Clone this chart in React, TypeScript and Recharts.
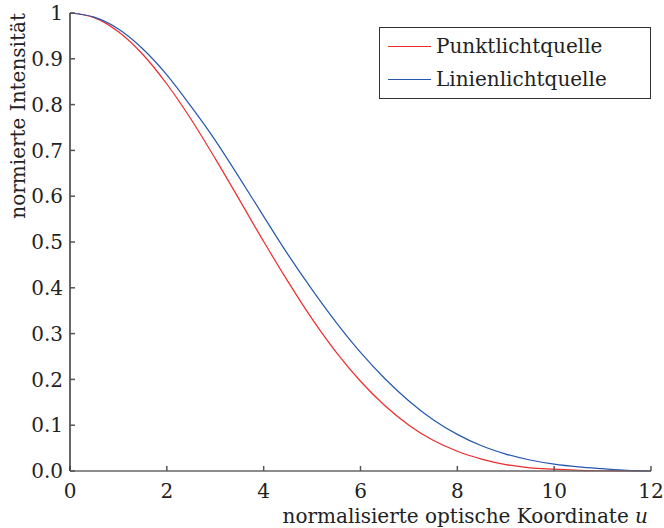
import React from "react";
import { LineChart, Line, XAxis, YAxis, Legend } from "recharts";

const uValues = [0, 0.5, 1, 1.5, 2, 2.5, 3, 3.5, 4, 4.5, 5, 5.5, 6, 6.5, 7, 7.5, 8, 8.5, 9, 9.5, 10, 10.5, 11, 11.5, 12];
const punktValues = [1, 0.99, 0.959, 0.91, 0.845, 0.768, 0.682, 0.592, 0.501, 0.414, 0.332, 0.259, 0.196, 0.143, 0.1, 0.067, 0.043, 0.026, 0.014, 0.007, 0.004, 0.0015, 0.0005, 0.0001, 0];
const linienValues = [1, 0.991, 0.965, 0.922, 0.865, 0.796, 0.722, 0.64, 0.556, 0.473, 0.396, 0.324, 0.259, 0.202, 0.153, 0.112, 0.08, 0.055, 0.037, 0.024, 0.015, 0.009, 0.005, 0.0015, 0];
const xTicks = [0, 2, 4, 6, 8, 10, 12];
const yTicks = [0, 0.1, 0.2, 0.3, 0.4, 0.5, 0.6, 0.7, 0.8, 0.9, 1];
const seriesNames = ["Punktlichtquelle", "Linienlichtquelle"];
const xLabel = "normalisierte optische Koordinate ";
const xLabelVar = "u";
const yLabel = "normierte Intensität";

const data = uValues.map((u, i) => ({ u, punkt: punktValues[i], linien: linienValues[i] }));

const FONT = '"DejaVu Serif", serif';
const FS = 20;
const TEXT = "#222";
const RED = "#ee2b2b";
const BLUE = "#2458b0";

const LegendBox = () => (
  <div
    style={{
      position: "absolute",
      left: 379,
      top: 27,
      width: 272,
      height: 72,
      border: "1.5px solid #333",
      background: "#fff",
      fontFamily: FONT,
      fontSize: FS,
      color: TEXT,
      boxSizing: "border-box",
    }}
  >
    {seriesNames.map((n, i) => (
      <div key={n} style={{ position: "absolute", left: 8, top: 5 + i * 33, height: 26, display: "flex", alignItems: "center", whiteSpace: "nowrap" }}>
        <div style={{ width: 43, height: 0, borderTop: `1.5px solid ${i === 0 ? RED : BLUE}`, marginRight: 5 }} />
        <span>{n}</span>
      </div>
    ))}
  </div>
);

export default function App() {
  return (
    <div style={{ position: "absolute", left: 0, top: 0, width: 664, height: 528, background: "#fff" }}>
      <LineChart width={664} height={528} data={data} margin={{ top: 13, right: 13, bottom: 0, left: 0 }}>
        <XAxis
          dataKey="u"
          type="number"
          domain={[0, 12]}
          ticks={xTicks}
          height={57}
          axisLine={{ stroke: "#666", strokeWidth: 1.5 }}
          tickLine={{ stroke: "#555", strokeWidth: 1.5 }}
          tickSize={-5}
          tickMargin={18}
          tick={{ fill: TEXT, fontFamily: FONT, fontSize: FS }}
          interval={0}
        />
        <YAxis
          type="number"
          domain={[0, 1]}
          ticks={yTicks}
          width={70}
          axisLine={{ stroke: "#333", strokeWidth: 1.5 }}
          tickLine={{ stroke: "#555", strokeWidth: 1.5 }}
          tickSize={-5}
          tickMargin={12}
          tick={{ fill: TEXT, fontFamily: FONT, fontSize: FS }}
          tickFormatter={(v: number) => (v === 0 ? "0.0" : v === 1 ? "1" : v.toFixed(1))}
          interval={0}
        />
        <Legend content={() => <LegendBox />} wrapperStyle={{ position: "absolute", left: 0, top: 0, width: 0, height: 0 }} />
        <Line type="monotone" dataKey="punkt" name={seriesNames[0]} stroke={RED} strokeWidth={1.2} dot={false} isAnimationActive={false} />
        <Line type="monotone" dataKey="linien" name={seriesNames[1]} stroke={BLUE} strokeWidth={1.2} dot={false} isAnimationActive={false} />
        <text x={648} y={523} textAnchor="end" fontFamily={FONT} fontSize={FS} fill={TEXT}>
          {xLabel}
          <tspan fontStyle="italic">{xLabelVar}</tspan>
        </text>
        <text x={25} y={13} transform="rotate(-90 25 13)" textAnchor="end" fontFamily={FONT} fontSize={FS} fill={TEXT}>
          {yLabel}
        </text>
      </LineChart>
    </div>
  );
}
